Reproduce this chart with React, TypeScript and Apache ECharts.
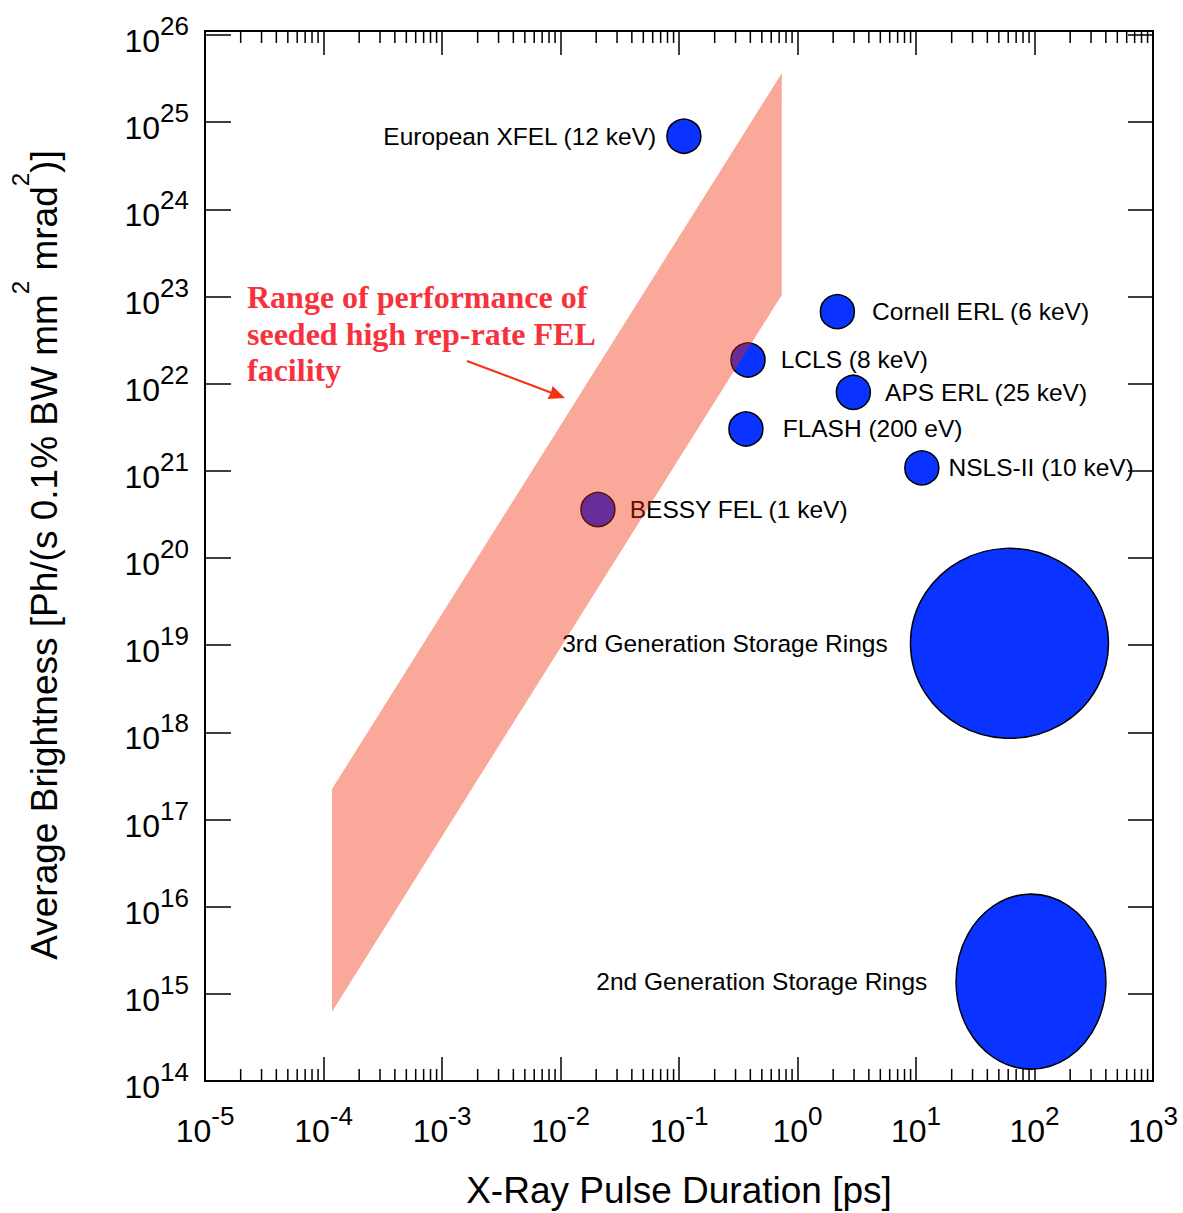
import React, { useEffect, useRef } from 'react';
import * as echarts from 'echarts';

// ---------- data ----------
const facilityNames = [
  'European XFEL (12 keV)',
  'Cornell ERL (6 keV)',
  'LCLS (8 keV)',
  'APS ERL (25 keV)',
  'FLASH (200 eV)',
  'NSLS-II (10 keV)',
  'BESSY FEL (1 keV)',
  '3rd Generation Storage Rings',
  '2nd Generation Storage Rings',
];
const pulseDurationPs = [0.11, 2.17, 0.382, 2.96, 0.367, 11.2, 0.0207, 61.5, 93.4];
const avgBrightness = [6.9e24, 6.7e22, 1.87e22, 7.96e21, 3.02e21, 1.08e21, 3.6e20, 1.05e19, 1.38e15];

// seeded high rep-rate FEL performance band (edges at two pulse durations)
const bandDurationPs = [1.18e-4, 0.736];
const bandLowerBrightness = [6.24e14, 1.04e23];
const bandUpperBrightness = [2.24e17, 3.64e25];

const xMin = 1e-5;
const xMax = 1e3;
const yMin = 1e14;
const yMax = 1e26;

// minor tick positions (2..9 x each decade)
const minorDecades = [-5, -4, -3, -2, -1, 0, 1, 2];
const minorMultipliers = [2, 3, 4, 5, 6, 7, 8, 9];

// ---------- styles ----------
const markerSize: any[] = [34, 34, 34, 34, 34, 34, 34, [198, 190], [150, 175]];
const labelSide = ['left', 'right', 'right', 'right', 'right', 'right', 'right', 'left', 'left'];
const labelGap = [10, 17, 15, 14, 19, 9, 14, 22, 28];

const SANS = "'Liberation Sans', Arial, Helvetica, sans-serif";
const SERIF = "'Liberation Serif', 'Times New Roman', serif";

const powRich = {
  b: { fontSize: 32, verticalAlign: 'bottom', fontFamily: SANS, color: '#000' },
  s: { fontSize: 26, verticalAlign: 'top', fontFamily: SANS, color: '#000' },
};
const powFormatter = (v: number) => {
  const e = Math.round(Math.log10(v));
  return `{b|10}{s|${e}}`;
};

export default function App() {
  const ref = useRef<HTMLDivElement>(null);
  useEffect(() => {
    if (!ref.current) return;
    const chart = echarts.init(ref.current, undefined, { renderer: 'svg' });

    const minorTicks: number[] = [];
    minorDecades.forEach((d) => minorMultipliers.forEach((m) => minorTicks.push(m * Math.pow(10, d))));

    const scatterData = facilityNames.map((name, i) => ({
      name,
      value: [pulseDurationPs[i], avgBrightness[i]],
      symbolSize: markerSize[i],
      label: { position: labelSide[i], distance: labelGap[i] },
    }));

    const axisLine = { show: true, lineStyle: { color: '#000', width: 2 } };

    const option: any = {
      animation: false,
      backgroundColor: '#fff',
      grid: { left: 205, top: 35, right: 30, bottom: 132, containLabel: false, outerBoundsMode: 'none' },
      xAxis: [
        {
          type: 'log', logBase: 10, min: xMin, max: xMax, splitNumber: 8, interval: 1, position: 'bottom',
          axisLine, splitLine: { show: false },
          axisTick: { show: true, inside: true, length: 24, lineStyle: { color: '#000', width: 1.5 } },
          axisLabel: { show: true, formatter: powFormatter, rich: powRich, lineHeight: 44, margin: 22, showMinLabel: true, showMaxLabel: true, verticalAlign: 'top' },
        },
        {
          type: 'log', logBase: 10, min: xMin, max: xMax, splitNumber: 8, interval: 1, position: 'top', offset: 4,
          axisLine, splitLine: { show: false },
          axisTick: { show: true, inside: true, length: 24, lineStyle: { color: '#000', width: 1.5 } },
          axisLabel: { show: false },
        },
      ],
      yAxis: [
        {
          type: 'log', logBase: 10, min: yMin, max: yMax, splitNumber: 12, interval: 1, position: 'left',
          axisLine, splitLine: { show: false },
          axisTick: { show: true, inside: true, length: 26, lineStyle: { color: '#000', width: 1.5 } },
          axisLabel: { show: true, formatter: powFormatter, rich: powRich, lineHeight: 44, margin: 16, showMinLabel: true, showMaxLabel: true, align: 'right' },
        },
        {
          type: 'log', logBase: 10, min: yMin, max: yMax, splitNumber: 12, interval: 1, position: 'right',
          axisLine, splitLine: { show: false },
          axisTick: { show: true, inside: true, length: 25, lineStyle: { color: '#000', width: 1.5 } },
          axisLabel: { show: false },
        },
      ],
      series: [
        {
          type: 'custom', xAxisIndex: 0, yAxisIndex: 0, silent: true, clip: false, z: 3,
          data: minorTicks.map((v) => [v, yMin]),
          renderItem: (params: any, api: any) => {
            const v = api.value(0);
            const b = api.coord([v, yMin]);
            const t = api.coord([v, yMax]);
            return {
              type: 'group',
              children: [
                { type: 'line', shape: { x1: b[0], y1: b[1], x2: b[0], y2: b[1] - 12 }, style: { stroke: '#000', lineWidth: 1.5 } },
                { type: 'line', shape: { x1: t[0], y1: t[1] - 4, x2: t[0], y2: t[1] + 8 }, style: { stroke: '#000', lineWidth: 1.5 } },
              ],
            };
          },
        },
        {
          type: 'scatter', xAxisIndex: 0, yAxisIndex: 0, silent: true, z: 2,
          symbol: 'circle',
          itemStyle: { color: '#0A33FF', borderColor: '#000', borderWidth: 1.5, opacity: 1 },
          label: { show: true, formatter: '{b}', fontSize: 24.5, color: '#000', fontFamily: SANS },
          emphasis: { disabled: true },
          data: scatterData,
        },
        {
          type: 'custom', xAxisIndex: 0, yAxisIndex: 0, silent: true, clip: false, z: 10,
          data: bandDurationPs.map((x, i) => [x, bandLowerBrightness[i], bandUpperBrightness[i]]),
          renderItem: (params: any, api: any) => {
            if (params.dataIndex !== 0) return null;
            const pts = [
              api.coord([bandDurationPs[0], bandLowerBrightness[0]]),
              api.coord([bandDurationPs[0], bandUpperBrightness[0]]),
              api.coord([bandDurationPs[1], bandUpperBrightness[1]]),
              api.coord([bandDurationPs[1], bandLowerBrightness[1]]),
            ];
            return { type: 'polygon', shape: { points: pts }, style: { fill: 'rgba(242,37,0,0.4)' } };
          },
        },
      ],
      graphic: [
        {
          type: 'rect', silent: true, z: 100,
          shape: { x: 205, y: 31, width: 948, height: 1050 },
          style: { fill: 'none', stroke: '#000', lineWidth: 2 },
        },
        {
          type: 'text', x: 679, y: 1190, silent: true,
          style: { text: 'X-Ray Pulse Duration [ps]', fontSize: 37, fontFamily: SANS, fill: '#000', align: 'center', verticalAlign: 'middle' },
        },
        {
          type: 'text', x: 35.5, y: 555, rotation: Math.PI / 2, silent: true,
          style: {
            text: '{m|Average Brightness [Ph/(s 0.1% BW mm}{s|2}{m| mrad}{s|2}{m|)]}',
            align: 'center', verticalAlign: 'middle', lineHeight: 55,
            rich: {
              m: { fontSize: 37, verticalAlign: 'bottom', fontFamily: SANS, fill: '#000', color: '#000' },
              s: { fontSize: 24, verticalAlign: 'top', fontFamily: SANS, fill: '#000', color: '#000' },
            },
          },
        },
        {
          type: 'text', x: 247, y: 278.75, silent: true,
          style: {
            text: 'Range of performance of\nseeded high rep-rate FEL\nfacility',
            fontSize: 32, lineHeight: 36.5, fontWeight: 'bold', fontFamily: SERIF, fill: '#F7323C',
            align: 'left', verticalAlign: 'top',
          },
        },
        {
          type: 'line', silent: true,
          shape: { x1: 467, y1: 361, x2: 552, y2: 393 },
          style: { stroke: '#F83010', lineWidth: 2 },
        },
        {
          type: 'polygon', silent: true,
          shape: { points: [[565, 398], [547.5, 398.9], [551, 392.5], [552.5, 385.9]] },
          style: { fill: '#F83010' },
        },
      ],
    };

    chart.setOption(option);
    return () => chart.dispose();
  }, []);

  return <div ref={ref} style={{ position: 'fixed', left: 0, top: 0, width: 1183, height: 1213 }} />;
}
